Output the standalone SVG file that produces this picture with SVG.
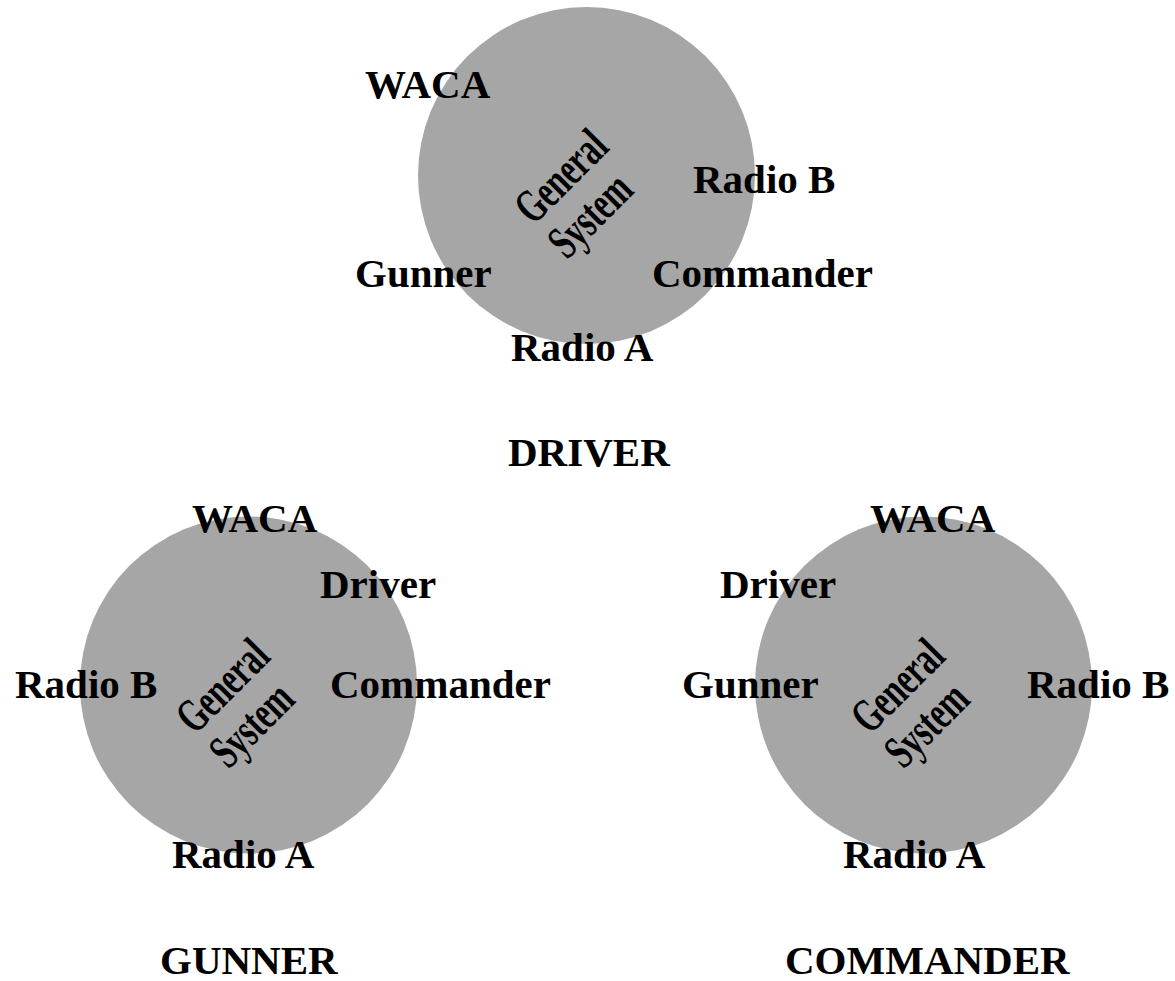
<svg xmlns="http://www.w3.org/2000/svg" width="1175" height="981" viewBox="0 0 1175 981">
  <style>
    .disc { fill: #a6a6a6; stroke: none; }
    .lbl { font-family: "Liberation Serif", "Times New Roman", serif; font-weight: bold; font-size: 41px; fill: #000; }
    .core { font-family: "Liberation Serif", "Times New Roman", serif; font-weight: bold; font-size: 48px; fill: #000; text-anchor: middle; }
  </style>
  <defs>
    <!-- rotated, condensed "General System" caption placed at a disc centre -->
    <g id="core-caption">
      <g transform="rotate(-45)">
        <g transform="translate(-19,-2) scale(0.66,1)"><text class="core" x="0" y="0">General</text></g>
        <g transform="translate(-26,46) scale(0.66,1)"><text class="core" x="0" y="0">System</text></g>
      </g>
    </g>
  </defs>

  <!-- connectors: none drawn -->
  <g id="connectors"></g>

  <!-- DRIVER -->
  <g id="driver">
    <circle class="disc" cx="586.5" cy="175.5" r="168.5"/>
    <use href="#core-caption" transform="translate(587,175.5)"/>
    <text class="lbl" x="365" y="98">WACA</text>
    <text class="lbl" x="693" y="193">Radio B</text>
    <text class="lbl" x="355" y="287">Gunner</text>
    <text class="lbl" x="652" y="287">Commander</text>
    <text class="lbl" x="511" y="361">Radio A</text>
    <text class="lbl" x="508" y="466">DRIVER</text>
  </g>

  <!-- GUNNER -->
  <g id="gunner">
    <circle class="disc" cx="248.5" cy="685" r="168.5"/>
    <use href="#core-caption" transform="translate(248.5,685)"/>
    <text class="lbl" x="192" y="532">WACA</text>
    <text class="lbl" x="320" y="598">Driver</text>
    <text class="lbl" x="15" y="698">Radio B</text>
    <text class="lbl" x="330" y="698">Commander</text>
    <text class="lbl" x="172" y="868">Radio A</text>
    <text class="lbl" x="160" y="974">GUNNER</text>
  </g>

  <!-- COMMANDER -->
  <g id="commander">
    <circle class="disc" cx="923.5" cy="685" r="168.5"/>
    <use href="#core-caption" transform="translate(923.5,685)"/>
    <text class="lbl" x="870" y="532">WACA</text>
    <text class="lbl" x="720" y="598">Driver</text>
    <text class="lbl" x="682" y="698">Gunner</text>
    <text class="lbl" x="1027" y="698">Radio B</text>
    <text class="lbl" x="843" y="868">Radio A</text>
    <text class="lbl" x="785" y="974">COMMANDER</text>
  </g>
</svg>
